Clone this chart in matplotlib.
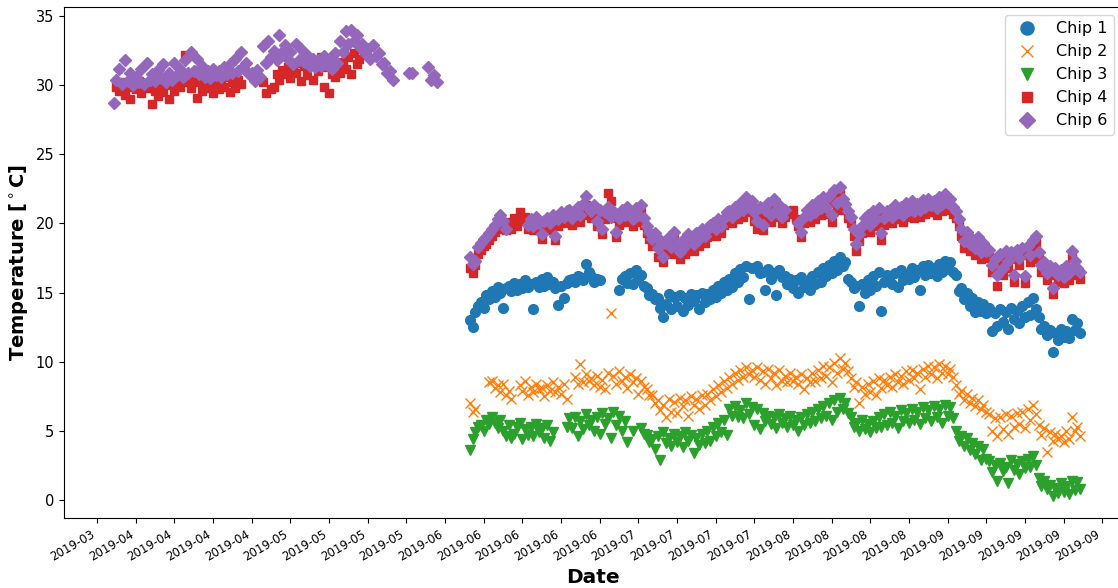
import matplotlib
matplotlib.use("Agg")
import matplotlib.pyplot as plt
import matplotlib.dates as mdates
import numpy as np
import pandas as pd

nan = float("nan")

# readings every 12 h; first block (chips 4 and 6 only) starts 2019-04-03 00:00,
# second block (all chips) starts 2019-06-06 12:00
start_spring = "2019-04-03 00:00"
start_summer = "2019-06-06 12:00"

chip6_spring = [
    28.7, 30.4, 31.2, 30.1, 31.8, 30.3, 30.9, 30.0, 30.6, 30.2,
    31.2, 30.1, 31.6, 30.4, 30.8, 30.3, 31.1, 30.5, 31.5, 30.2,
    30.9, 30.4, 31.6, 30.7, 31.2, 30.6, 31.8, 30.9, 32.4, 31.0,
    31.9, 30.8, 31.4, 30.6, 31.0, 30.5, 31.2, 30.7, 31.0, 30.6,
    31.3, 30.8, 31.5, 30.9, 31.9, 31.0, 32.4, 31.3, 31.6, 30.8,
    30.9, 30.3, 31.1, 30.6, 32.8, 31.6, 33.2, 32.0, 32.5, 31.8,
    33.6, 32.4, 32.9, 31.9, 32.4, 31.5, 33.0, 31.8, 32.6, 31.7,
    32.2, 31.4, 31.9, 31.3, 31.8, 31.4, 32.1, 31.5, 31.9, 31.2,
    32.3, 31.6, 33.2, 32.4, 33.9, 33.0, 34.0, 33.2, 33.6, 32.8,
    33.0, 32.3, 32.6, 31.9, 32.9, 32.1, 32.3, 31.5, 31.6, 30.9,
    31.0, 30.4, nan, nan, nan, nan, nan, 30.9, 30.9, nan,
    nan, nan, nan, nan, 31.3, 30.4, 30.7, 30.2,
]

chip4_spring = [
    nan, 29.9, 29.6, 30.2, 29.3, 29.9, 29.0, 30.1, 29.7, 30.3,
    29.4, 30.0, 29.8, 30.2, 28.6, 29.6, 29.2, 30.1, 29.5, 30.3,
    29.0, 30.0, 29.6, 30.4, 29.9, 30.5, 32.2, 30.2, 29.8, 30.4,
    29.1, 30.2, 29.6, 30.3, 29.8, 30.5, 29.4, 30.1, 29.7, 30.4,
    29.9, 30.6, 29.5, 30.2, 29.8, 30.4, 30.1, nan, nan, nan,
    nan, nan, nan, nan, 30.2, 29.4, nan, 29.7, 29.9, 30.8,
    30.4, 31.1, 30.8, 31.3, 30.5, 31.2, 30.9, 31.6, 30.3, 31.4,
    30.7, 31.8, 30.4, 31.5, 31.0, 32.0, 29.9, 31.3, 29.4, 30.8,
    30.6, 31.4, 30.9, 31.7, 31.2, 32.0, 30.8, 32.3, 31.5, 31.9,
]

chip1_summer = [
    13.0, 12.5, 13.6, 14.0, 14.3, 13.9, 14.8, 14.5, 15.1, 14.7,
    15.4, 15.0, 13.9, 15.3, 15.5, 15.1, 15.7, 15.2, 15.6, 15.3,
    15.9, 15.4, 15.6, 13.8, 15.8, 15.4, 16.0, 15.5, 16.1, 15.6,
    15.8, 15.3, 14.1, 15.5, 14.6, 15.7, 15.9, 16.0, 15.8, 16.2,
    16.1, 15.9, 17.1, 16.5, 16.2, 15.8, 16.0, 15.9, nan, nan,
    nan, nan, nan, nan, 15.2, 16.0, 16.2, 15.7, 16.4, 15.6,
    16.6, 16.0, 16.3, 15.5, 15.3, 14.8, 14.9, 14.5, 14.6, 13.9,
    13.2, 14.2, 14.9, 13.8, 14.7, 14.0, 14.8, 13.7, 14.6, 14.1,
    14.9, 14.4, 14.8, 13.8, 15.0, 14.3, 14.9, 14.5, 15.2, 14.7,
    15.5, 15.0, 15.8, 15.2, 16.0, 15.4, 16.4, 15.8, 16.7, 16.1,
    16.9, 14.5, 16.8, nan, 16.9, 16.4, 16.5, 15.2, 16.7, 16.0,
    16.4, 14.8, 16.6, 16.1, 16.2, 15.6, 16.0, 15.3, 15.9, 15.0,
    16.1, 15.4, 15.8, 15.2, 16.2, 15.6, 16.5, 15.8, 16.8, 16.2,
    17.0, 16.4, 17.3, 16.6, 17.6, 16.9, 17.2, 16.0, 15.8, 15.3,
    15.5, 14.0, 15.6, 15.0, 15.9, 15.2, 16.2, 15.5, 16.5, 13.7,
    15.8, 16.3, 16.2, 15.6, 16.4, 15.4, 16.6, 15.9, 16.3, 16.0,
    16.8, 16.1, 16.6, 15.2, 16.9, 16.3, 17.0, 16.4, 16.8, 16.2,
    17.1, 16.5, 17.3, 16.7, 17.2, 16.5, 16.3, 15.1, 15.3, 14.5,
    15.0, 14.0, 14.6, 13.6, 14.3, 13.7, 14.2, 13.5, 13.9, 12.2,
    13.5, 12.6, 13.8, 12.9, 13.6, 12.4, 13.9, 13.1, 13.7, 12.8,
    14.0, 13.2, 14.3, 13.4, 14.6, 13.8, 13.2, 12.4, 12.6, 11.9,
    12.3, 10.7, 12.1, 11.6, 12.4, 11.8, 12.2, 11.7, 13.1, 12.3,
    12.8, 12.1,
]

chip2_summer = [
    7.0, 6.4, 6.6, nan, nan, nan, nan, 8.5, 8.6, 8.1,
    8.3, 7.8, 8.4, 7.6, 7.9, 7.3, nan, nan, 8.3, 7.9,
    8.6, 7.6, 8.2, 7.8, 8.4, 8.0, 8.1, 7.5, 8.3, 7.9,
    8.5, 7.8, 8.2, 7.7, 8.4, 7.3, nan, nan, 8.9, 8.4,
    9.8, 8.5, 9.1, 8.6, 8.8, 8.3, 9.0, 8.2, 8.7, 8.0,
    9.2, 13.5, 9.0, 8.4, 9.3, 8.6, 8.9, 8.1, 9.1, 8.5,
    8.8, 7.7, 8.6, 8.2, 8.0, 7.6, 7.6, 7.0, 7.2, 6.5,
    6.9, 6.0, 7.3, 6.4, 7.1, 6.3, 7.4, 6.8, 7.2, 6.1,
    7.5, 6.9, 7.3, 6.6, 7.6, 6.9, 7.7, 7.2, 8.0, 7.5,
    8.3, 7.8, 8.6, 8.1, 8.9, 8.4, 9.2, 8.7, 9.4, 8.9,
    9.6, 9.1, 9.4, 8.9, 9.6, 8.7, 9.3, 8.4, 9.5, 8.8,
    9.2, 8.3, 9.4, 8.6, 9.0, 8.5, 9.2, 8.6, 8.9, 8.4,
    9.1, 8.0, 8.8, 8.5, 9.2, 8.6, 9.4, 8.8, 9.7, 9.0,
    9.6, 8.5, 9.9, 9.2, 10.3, 9.5, 9.9, 9.3, 8.8, 8.2,
    8.5, 7.0, 8.2, 7.7, 8.4, 7.8, 8.6, 7.6, 8.8, 8.1,
    8.7, 8.3, 8.9, 8.2, 9.1, 8.5, 9.0, 8.4, 9.3, 8.7,
    9.4, 8.8, 9.2, 8.0, 9.5, 8.9, 9.7, 9.1, 9.6, 8.8,
    9.8, 9.2, 9.7, 9.1, 9.5, 8.9, 8.3, 7.7, 7.9, 7.2,
    7.7, 7.0, 7.4, 6.8, 7.2, 6.6, 6.9, 6.4, 6.2, 5.0,
    5.9, 4.6, 6.0, 5.1, 6.2, 4.8, 6.1, 5.3, 6.3, 5.5,
    6.4, 5.2, 6.6, 5.8, 6.9, 6.2, 5.4, 4.7, 5.2, 3.5,
    4.9, 4.3, 4.8, 4.4, 4.6, 4.2, 5.0, 4.4, 6.0, 5.0,
    5.3, 4.6,
]

chip3_summer = [
    3.6, 4.4, 4.9, 5.3, 5.4, 5.0, 5.8, 5.5, 6.0, 5.6,
    5.2, 5.8, 5.0, 4.6, 5.4, 4.5, 4.8, 5.3, 5.6, 4.4,
    5.1, 4.7, 5.3, 4.6, 5.5, 4.9, 5.2, 4.5, 5.4, 4.3,
    4.9, nan, nan, nan, nan, 5.3, 5.9, 5.2, 6.0, 4.6,
    5.7, 5.1, 6.2, 5.4, 5.8, 5.0, 6.0, 4.8, 6.3, 5.5,
    5.9, 4.5, 6.4, 5.4, 6.1, 5.0, 5.7, 4.2, nan, 5.0,
    nan, nan, 5.2, 4.8, 4.7, 4.2, 4.4, 3.7, 4.6, 2.9,
    4.9, 4.1, 4.5, 3.9, 4.8, 4.2, 4.6, 3.8, 4.9, 4.3,
    4.7, 3.4, 4.5, 4.0, 4.8, 4.1, 5.0, 4.3, 5.3, 4.6,
    5.6, 4.9, 5.8, 4.7, 6.6, 6.1, 6.8, 6.0, 6.5, 5.9,
    7.0, 6.2, 6.7, 5.4, 6.6, 5.1, 6.3, 5.7, 6.1, 5.5,
    6.0, 5.2, 6.2, 5.6, 5.9, 5.3, 6.1, 5.4, 5.8, 5.0,
    6.0, 5.4, 6.2, 5.6, 6.4, 5.7, 6.6, 5.9, 6.8, 6.1,
    7.0, 5.8, 7.2, 6.4, 7.4, 6.6, 7.0, 6.3, 6.0, 5.3,
    5.6, 5.0, 5.8, 5.1, 5.5, 4.9, 5.7, 5.2, 6.0, 5.3,
    6.2, 5.4, 6.4, 5.6, 6.1, 5.2, 6.5, 5.7, 6.3, 5.6,
    6.6, 5.8, 6.4, 5.5, 6.7, 5.9, 6.5, 5.7, 6.8, 6.0,
    6.6, 5.6, 6.9, 6.1, 6.7, 5.9, 5.0, 4.3, 4.6, 3.9,
    4.5, 3.6, 4.1, 3.3, 3.9, 2.9, 3.7, 3.0, 2.8, 2.0,
    2.5, 1.4, 2.7, 2.1, 2.4, 1.2, 2.9, 2.2, 2.6, 1.9,
    2.8, 2.3, 3.0, 2.4, 3.2, 2.5, 1.6, 1.0, 1.4, 0.8,
    1.1, 0.3, 0.9, 0.5, 1.2, 0.6, 1.0, 0.4, 1.4, 0.7,
    1.3, 0.8,
]

chip4_summer = [
    16.8, 16.4, 17.0, 17.8, 18.1, 18.4, 18.5, 18.8, 19.1, 19.4,
    19.7, 20.0, 19.6, 19.5, 20.1, 19.6, 20.4, 19.8, 20.8, 20.2,
    20.5, 19.6, 19.9, 19.5, 20.0, 19.6, 18.9, 19.7, 19.9, 19.5,
    20.1, 18.8, 19.8, 20.3, 20.0, 20.4, 20.5, 19.9, 20.3, 20.7,
    20.1, 20.9, 21.3, 20.6, 20.4, 20.8, 19.8, 20.5, 19.2, 20.3,
    22.2, 21.6, 20.4, 19.0, 19.9, 20.5, 20.1, 20.7, 20.3, 19.8,
    20.6, 20.1, 20.8, 19.9, 19.3, 18.9, 18.4, 18.8, 17.6, 18.2,
    17.2, 18.0, 18.5, 17.8, 18.9, 18.1, 17.4, 18.3, 17.8, 18.6,
    18.4, 18.0, 18.8, 18.4, 19.1, 18.6, 19.0, 19.4, 19.5, 19.1,
    19.8, 19.3, 19.9, 20.3, 20.4, 20.0, 20.7, 20.3, 21.0, 20.5,
    21.4, 20.8, 21.1, 20.2, 19.6, 20.7, 19.5, 20.5, 21.0, 20.1,
    21.3, 20.5, 20.8, 20.0, 20.5, 20.9, 20.7, 21.0, 20.3, 19.8,
    19.0, 20.0, 20.5, 20.1, 20.8, 20.3, 21.1, 20.6, 21.4, 20.7,
    21.5, 20.1, 21.9, 21.0, 22.1, 21.3, 21.0, 20.4, 20.0, 19.1,
    18.0, 18.7, 19.3, 19.9, 20.1, 19.4, 20.4, 19.8, 20.6, 18.8,
    19.9, 20.4, 20.5, 20.0, 20.8, 20.3, 20.7, 20.1, 21.0, 20.5,
    21.1, 20.4, 20.9, 20.5, 21.2, 20.7, 21.3, 20.8, 21.1, 20.6,
    21.4, 20.9, 21.6, 21.0, 21.3, 20.7, 20.4, 19.8, 19.1, 18.2,
    18.9, 18.0, 18.4, 17.7, 18.5, 17.4, 18.1, 17.5, 17.6, 16.5,
    16.9, 15.5, 17.3, 16.3, 17.5, 16.8, 17.4, 15.8, 17.6, 17.0,
    17.7, 15.7, 17.9, 17.2, 18.3, 18.6, 17.4, 16.5, 16.7, 15.9,
    16.4, 14.9, 16.3, 15.8, 16.1, 15.7, 16.4, 15.9, 17.5, 16.8,
    16.3, 16.0,
]

chip6_summer = [
    17.6, 17.1, 17.3, 18.3, 18.6, 18.9, 19.0, 19.3, 19.6, 19.9,
    20.3, 20.6, 20.2, 19.6, nan, nan, nan, nan, nan, nan,
    nan, 19.9, 20.3, 19.8, 20.5, 20.0, 19.2, 20.2, 20.4, 20.0,
    20.6, 19.1, 20.3, 20.8, 20.5, 20.9, 21.0, 20.4, 20.8, 21.2,
    20.6, 21.4, 22.0, 21.1, 20.9, 21.3, 20.2, 21.0, 19.6, 20.8,
    21.2, 20.5, 20.9, 19.4, 20.4, 21.0, 20.6, 21.2, 20.8, 20.3,
    21.1, 20.6, 21.3, 20.4, 19.8, 19.4, 18.9, 19.3, 18.2, 18.8,
    17.6, 18.6, 19.0, 18.3, 19.4, 18.6, 17.9, 18.8, 18.4, 19.2,
    19.0, 18.5, 19.3, 18.9, 19.6, 19.1, 19.5, 19.9, 20.0, 19.6,
    20.3, 19.8, 20.4, 20.8, 20.9, 20.5, 21.2, 20.8, 21.5, 21.0,
    21.9, 21.3, 21.6, 20.8, 20.2, 21.2, 19.9, 21.0, 21.5, 20.6,
    21.8, 21.0, 21.3, 20.5, 21.0, nan, nan, nan, nan, 20.0,
    19.4, 20.5, 21.0, 20.6, 21.3, 20.8, 21.6, 21.1, 21.9, 21.2,
    22.0, 20.6, 22.4, 21.5, 22.6, 21.8, 21.4, 20.9, 20.5, 19.6,
    18.5, 19.2, 19.8, 20.4, 20.6, 19.9, 20.9, 20.3, 21.1, 19.3,
    20.4, 20.9, 21.0, 20.5, 21.3, 20.8, 21.2, 20.6, 21.5, 21.0,
    21.6, 20.9, 21.4, 21.0, 21.7, 21.2, 21.8, 21.3, 21.6, 21.1,
    21.9, 21.4, 22.1, 21.5, 21.8, 21.2, 20.9, 20.3, 19.6, 18.7,
    19.4, 18.5, 18.9, 18.2, 19.0, 17.9, 18.6, 18.0, 18.1, 17.0,
    17.4, 16.3, 17.8, 16.8, 18.0, 17.3, 17.9, 16.3, 18.1, 17.5,
    18.2, 16.2, 18.4, 17.7, 18.8, 19.1, 17.9, 17.0, 17.2, 16.4,
    16.9, 15.3, 16.8, 16.3, 16.6, 16.1, 16.9, 16.4, 18.0, 17.3,
    16.8, 16.5,
]

labels = ["Chip 1", "Chip 2", "Chip 3", "Chip 4", "Chip 6"]
colors = ["#1f77b4", "#ff7f0e", "#2ca02c", "#d62728", "#9467bd"]
markers = ["o", "x", "v", "s", "D"]
sizes = [7, 6.5, 6.5, 5.8, 6.2]


def times(start, values):
    return pd.date_range(start, periods=len(values), freq="12h")


def series(spring, summer):
    t = []
    v = []
    if spring is not None:
        t.extend(times(start_spring, spring))
        v.extend(spring)
    t.extend(times(start_summer, summer))
    v.extend(summer)
    return pd.Series(v, index=pd.DatetimeIndex(t))


data = [
    series(None, chip1_summer),
    series(None, chip2_summer),
    series(None, chip3_summer),
    series(chip4_spring, chip4_summer),
    series(chip6_spring, chip6_summer),
]

fig = plt.figure(figsize=(11.18, 5.88), dpi=100)
# the right spine sits just past the right edge of the picture
ax = fig.add_axes([64 / 1118, 70 / 588, 1058 / 1118, 511 / 588])

for s, lab, c, m, ms in zip(data, labels, colors, markers, sizes):
    ax.plot(s.index, s.values, linestyle="none", marker=m, markersize=ms,
            color=c, label=lab)

ax.set_xlim(pd.Timestamp("2019-03-25 00:00"), pd.Timestamp("2019-10-02 14:00"))
ax.set_ylim(-1.3, 35.65)
ax.set_yticks([0, 5, 10, 15, 20, 25, 30, 35])
ax.xaxis.set_major_locator(mdates.WeekdayLocator(byweekday=mdates.SU))
ax.xaxis.set_major_formatter(mdates.DateFormatter("%Y-%m"))
for lab in ax.get_xticklabels():
    lab.set_rotation(30)
    lab.set_ha("right")
ax.tick_params(axis="x", labelsize=8.5)
ax.tick_params(axis="y", labelsize=10.5)

ax.set_xlabel("Date", fontsize=14.5, fontweight="bold", labelpad=3)
ax.set_ylabel("Temperature [$^\\circ$C]", fontsize=14, fontweight="bold")
ax.legend(loc="upper right", fontsize=11.5, markerscale=1.35)

fig.savefig("out.png", dpi=100)
